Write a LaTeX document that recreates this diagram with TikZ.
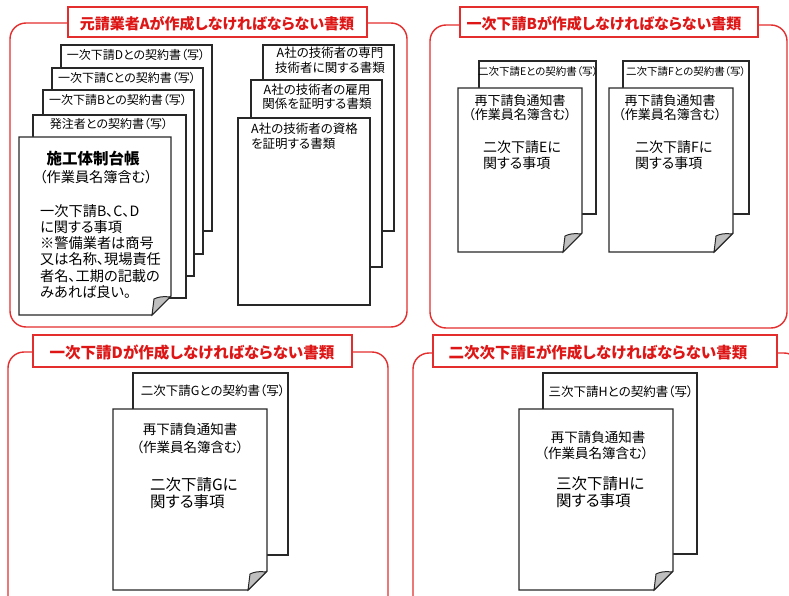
\documentclass[tikz,border=0pt]{standalone}
\usepackage{fontspec}
\setmainfont{Noto Sans CJK JP}[RawFeature=+palt]
\definecolor{framered}{RGB}{228,45,45}
\definecolor{titlered}{RGB}{222,22,22}
\definecolor{docgray}{RGB}{40,40,40}
\newcommand{\fs}[2]{\fontsize{#1}{#2}\selectfont}
\newcommand{\plaindoc}[4]{%
  \filldraw[docline] (#1,#2) rectangle (#3,#4);}
\newcommand{\folddoc}[4]{%
  \filldraw[docline] (#1,#2) -- (#3,#2) -- (#3,#4-19) -- (#3-19,#4) -- (#1,#4) -- cycle;
  \filldraw[docline, fill=gray!50, line width=1pt] (#3-1,#4-18) .. controls (#3-8,#4-19) and (#3-13,#4-18) .. (#3-17,#4-16) -- (#3-19,#4) -- cycle;}
\tikzset{
  panel/.style={draw=framered, line width=1.4pt, rounded corners=16pt},
  titlebox/.style={draw=framered, line width=1.3pt, fill=white, inner sep=0pt, minimum height=30pt},
  titletext/.style={inner sep=0pt, text=titlered, anchor=center},
  docline/.style={draw=docgray, line width=1.4pt, fill=white, line join=miter},
  lbl/.style={inner sep=0pt, text=black, anchor=center},
  lbll/.style={inner sep=0pt, text=black, anchor=west, align=left},
  lblc/.style={inner sep=0pt, text=black, anchor=center, align=center},
}
\begin{document}
\begin{tikzpicture}[x=1pt,y=-1pt]
\useasboundingbox (0,0) rectangle (789,596);
\fill[white] (0,0) rectangle (789,596);
\clip (0,0) rectangle (789,596);

% ---------------- panel 1 ----------------
\draw[panel] (10,23) rectangle (407,327);
\node[titlebox, minimum width=299pt] (t1) at (217.5,22) {};
\node[titletext, font=\bfseries\fs{15}{17}] (t1x) at (217,24) {元請業者Aが作成しなければならない書類};

\plaindoc{61}{45}{212}{231}
\node[lbl, font=\fs{12}{13}] (d1) at (136,55) {一次下請Dとの契約書（写）};
\plaindoc{52}{68}{203}{254}
\node[lbl, font=\fs{12}{13}] (c1) at (127,78) {一次下請Cとの契約書（写）};
\plaindoc{43}{90}{194}{276}
\node[lbl, font=\fs{12}{13}] (b1) at (118,100) {一次下請Bとの契約書（写）};
\plaindoc{33}{115}{186}{298}
\node[lbl, font=\fs{12}{13}] (h1) at (109,124) {発注者との契約書（写）};
\folddoc{19}{137}{171}{315}
\node[lbl, font=\bfseries\fs{15.5}{17}] (m1) at (93,159) {施工体制台帳};
\node[lbl, font=\fs{14.2}{15}] (m2) at (96,177) {（作業員名簿含む）};
\node[lbll, font=\fs{14.2}{16.2}] (m3) at (40,251.5) {一次下請B、C、D\\に関する事項\\※警備業者は商号\\又は名称、現場責任\\者名、工期の記載の\\みあれば良い。};

\plaindoc{263}{45}{394}{231}
\node[lblc, font=\fs{12.5}{15}] (r1) at (330,60.5) {A社の技術者の専門\\技術者に関する書類};
\plaindoc{251}{80}{382}{267}
\node[lblc, font=\fs{12.5}{14.5}] (r2) at (317,97) {A社の技術者の雇用\\関係を証明する書類};
\plaindoc{238}{118}{370}{305}
\node[lbll, font=\fs{12.5}{15}] (r3) at (251,136.5) {A社の技術者の資格\\を証明する書類};

% ---------------- panel 2 ----------------
\draw[panel] (430,25) rectangle (787,328);
\node[titlebox, minimum width=298pt] (t2) at (609,22) {};
\node[titletext, font=\bfseries\fs{15}{17}] (t2x) at (604,24) {一次下請Bが作成しなければならない書類};

\plaindoc{479}{61}{596}{214}
\node[lbl, font=\fs{10.5}{11}] (e0) at (538,72) {二次下請Eとの契約書（写）};
\folddoc{458}{88}{582}{252}
\node[lbl, font=\fs{13}{14}] (e1) at (520,101) {再下請負通知書};
\node[lbl, font=\fs{13}{14}] (e2) at (520,115) {（作業員名簿含む）};
\node[lbll, font=\fs{14}{16}] (e3) at (483,155) {二次下請Eに\\関する事項};

\plaindoc{623}{61}{749}{214}
\node[lbl, font=\fs{10.5}{11}] (f0) at (686,72) {二次下請Fとの契約書（写）};
\folddoc{609}{88}{733}{252}
\node[lbl, font=\fs{13}{14}] (f1) at (670,101) {再下請負通知書};
\node[lbl, font=\fs{13}{14}] (f2) at (670,115) {（作業員名簿含む）};
\node[lbll, font=\fs{14}{16}] (f3) at (635,155) {二次下請Fに\\関する事項};

% ---------------- panel 3 ----------------
\draw[panel] (8,352) rectangle (388,620);
\node[titlebox, minimum width=319pt, minimum height=32pt] (t3) at (192.5,351) {};
\node[titletext, font=\bfseries\fs{15.5}{17}] (t3x) at (192,353) {一次下請Dが作成しなければならない書類};

\plaindoc{133}{373}{288}{555}
\node[lbl, font=\fs{12.5}{13}] (g0) at (213,391) {二次下請Gとの契約書（写）};
\folddoc{113}{409}{267}{590}
\node[lbl, font=\fs{13.5}{15}] (g1) at (190,429) {再下請負通知書};
\node[lbl, font=\fs{13.5}{15}] (g2) at (190,447) {（作業員名簿含む）};
\node[lbll, font=\fs{15.5}{17}] (g3) at (150,493.5) {二次下請Gに\\関する事項};

% ---------------- panel 4 ----------------
\draw[panel] (413,353) rectangle (800,620);
\node[titlebox, minimum width=344pt, minimum height=32pt] (t4) at (605,351) {};
\node[titletext, font=\bfseries\fs{15.5}{17}] (t4x) at (598,353) {二次次下請Eが作成しなければならない書類};

\plaindoc{543}{373}{697}{554}
\node[lbl, font=\fs{12.5}{13}] (k0) at (621,392) {三次下請Hとの契約書（写）};
\folddoc{519}{409}{673}{590}
\node[lbl, font=\fs{13.5}{15}] (k1) at (598,437) {再下請負通知書};
\node[lbl, font=\fs{13.5}{15}] (k2) at (595,453) {（作業員名簿含む）};
\node[lbll, font=\fs{15.5}{17}] (k3) at (556,492.5) {三次下請Hに\\関する事項};
\end{tikzpicture}
\end{document}
